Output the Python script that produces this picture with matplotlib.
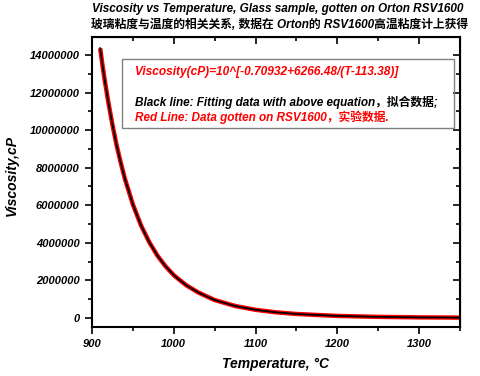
import matplotlib
matplotlib.use("Agg")
import matplotlib.pyplot as plt
from matplotlib.ticker import MultipleLocator, FuncFormatter

# data (cP)
temp_exp = [910, 913, 916, 920, 925, 930, 935, 940, 950, 960, 970, 980, 990, 1000, 1015,
            1030, 1050, 1075, 1100, 1125, 1150, 1200, 1250, 1300, 1350]
visc_exp = [14350000, 13390000, 12530000, 11470000, 10280000, 9210000, 8290000, 7440000,
            6040000, 4920000, 4040000, 3320000, 2750000, 2280000, 1750000, 1360000,
            958000, 642000, 439000, 306000, 217000, 114000, 64000, 37000, 23000]
temp_fit = [910, 913, 916, 920, 925, 930, 935, 940, 950, 960, 970, 980, 990, 1000, 1015,
            1030, 1050, 1075, 1100, 1125, 1150, 1200, 1250, 1300, 1350]
visc_fit = [14355000, 13400000, 12530000, 11470000, 10290000, 9210000, 8290000, 7440000,
            6040000, 4920000, 4040000, 3320000, 2750000, 2280000, 1750000, 1360000,
            958000, 642000, 439000, 306000, 217000, 114000, 64000, 37000, 23000]

title1 = "Viscosity vs Temperature, Glass sample, gotten on Orton RSV1600"
title2 = "玻璃粘度与温度的相关关系, 数据在 Orton的 RSV1600高温粘度计上获得"
eq_text = "Viscosity(cP)=10^[-0.70932+6266.48/(T-113.38)]"
black_text = "Black line: Fitting data with above equation，拟合数据;"
red_text = "Red Line: Data gotten on RSV1600，实验数据."

fam = ["Liberation Sans", "Noto Sans CJK SC", "DejaVu Sans"]
plt.rcParams["font.family"] = fam

fig = plt.figure(figsize=(4.8, 3.76), dpi=100)
ax = fig.add_axes([0.1917, 0.1311, 0.7666, 0.7713])

ax.plot(temp_exp, visc_exp, color="#ff0000", lw=3.2, solid_capstyle="butt")
ax.plot(temp_fit, visc_fit, color="black", lw=1.3)

ax.set_xlim(900, 1350)
ax.set_ylim(-460000, 14970000)
ax.xaxis.set_major_locator(MultipleLocator(100))
ax.xaxis.set_minor_locator(MultipleLocator(50))
ax.yaxis.set_major_locator(MultipleLocator(2000000))
ax.yaxis.set_minor_locator(MultipleLocator(1000000))
ax.yaxis.set_major_formatter(FuncFormatter(lambda v, p: "%d" % v))

for s in ax.spines.values():
    s.set_linewidth(1.5)
ax.tick_params(which="both", direction="out", width=1.2, top=False, right=False)
ax.tick_params(which="major", length=5, pad=4)
ax.tick_params(which="minor", length=3)
for lab in ax.get_xticklabels() + ax.get_yticklabels():
    lab.set_fontsize(8)
    lab.set_fontweight("bold")
    lab.set_fontstyle("italic")

# mirrored inward ticks on top and right
sx = ax.secondary_xaxis("top")
sx.xaxis.set_major_locator(MultipleLocator(100))
sx.xaxis.set_minor_locator(MultipleLocator(50))
sx.tick_params(which="both", direction="in", width=1.2, labeltop=False)
sx.tick_params(which="major", length=5)
sx.tick_params(which="minor", length=3)
sy = ax.secondary_yaxis("right")
sy.yaxis.set_major_locator(MultipleLocator(2000000))
sy.yaxis.set_minor_locator(MultipleLocator(1000000))
sy.tick_params(which="both", direction="in", width=1.2, labelright=False)
sy.tick_params(which="major", length=5)
sy.tick_params(which="minor", length=3)

ax.set_xlabel("Temperature, °C", fontsize=10, fontweight="bold", fontstyle="italic")
ax.set_ylabel("Viscosity,cP", fontsize=10, fontweight="bold", fontstyle="italic")
ax.xaxis.set_label_coords(0.5, -0.105)
ax.yaxis.set_label_coords(-0.198, 0.52)

fig.text(0.578, 0.976, title1, ha="center", va="center", fontsize=8.45,
         fontweight="bold", fontstyle="italic")
fig.text(0.583, 0.934, title2, ha="center", va="center", fontsize=8.5,
         fontweight="bold", fontstyle="italic")

# annotation box
box = plt.Rectangle((122 / 480, 1 - 128 / 376), (454 - 122) / 480, (128 - 59) / 376,
                    transform=fig.transFigure, fill=False, edgecolor="#808080", lw=1.0)
fig.add_artist(box)
fig.text(135 / 480, 1 - 72 / 376, eq_text, color="#ff0000", fontsize=8.6,
         fontweight="bold", fontstyle="italic", va="center")
fig.text(135 / 480, 1 - 102 / 376, black_text, color="black", fontsize=8.5,
         fontweight="bold", fontstyle="italic", va="center")
fig.text(135 / 480, 1 - 117 / 376, red_text, color="#ff0000", fontsize=8.5,
         fontweight="bold", fontstyle="italic", va="center")

fig.savefig("out.png", dpi=100)
